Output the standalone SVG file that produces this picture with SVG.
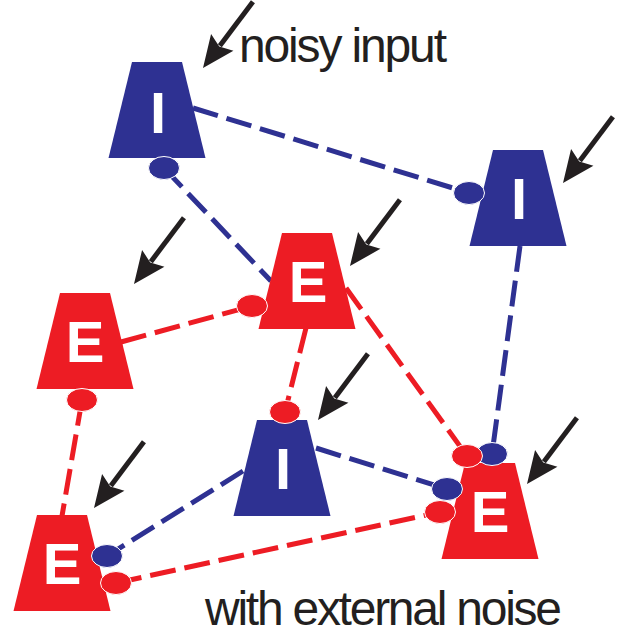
<svg xmlns="http://www.w3.org/2000/svg" xmlns:xlink="http://www.w3.org/1999/xlink" width="629" height="635" viewBox="0 0 629 635">
  <style>
    .exc { fill: #ed1c24; }
    .inh { fill: #2e3192; }
    .lbl { font-family: "Liberation Sans", Arial, sans-serif; font-weight: bold; font-size: 58px; fill: #ffffff; text-anchor: middle; }
    .cap { font-family: "Liberation Sans", Arial, sans-serif; font-size: 48px; fill: #231f20; }
    .wire { fill: none; stroke-width: 5; stroke-dasharray: 26 9; }
    .wire.e { stroke: #ed1c24; }
    .wire.i { stroke: #2e3192; }
    .syn { stroke: #ffffff; stroke-width: 1; }
    .syn.e { fill: #ed1c24; }
    .syn.i { fill: #2e3192; }
  </style>
  <defs>
    <!-- trapezoidal soma, origin at the middle of its top edge -->
    <path id="soma" d="M-25,0 H25 L48.5,96 H-48.5 Z"/>
    <!-- noise arrow pointing down, tip at origin -->
    <g id="kick">
      <line x1="0" y1="-28" x2="0" y2="-83" stroke="#231f20" stroke-width="5"/>
      <polygon points="0,0 -14,-32 0,-27 14,-32" fill="#231f20"/>
    </g>
  </defs>

  <!-- dashed synaptic connections -->
  <g id="connectors">
    <line class="wire i" x1="193" y1="108" x2="469" y2="193"/>
    <line class="wire i" x1="164" y1="168" x2="271" y2="281"/>
    <line class="wire i" x1="520" y1="246" x2="492" y2="454"/>
    <line class="wire i" x1="243" y1="471" x2="107" y2="556"/>
    <line class="wire i" x1="316" y1="448" x2="447" y2="489"/>
    <line class="wire e" x1="346" y1="288" x2="467" y2="456"/>
    <line class="wire e" x1="306" y1="328" x2="285" y2="412"/>
    <line class="wire e" x1="121" y1="342" x2="252" y2="306"/>
    <line class="wire e" x1="82" y1="400" x2="62" y2="516"/>
    <line class="wire e" x1="116" y1="583" x2="440" y2="512"/>
  </g>

  <!-- neurons -->
  <g id="inh-top-left">
    <use xlink:href="#soma" class="inh" transform="translate(157,62)"/>
    <text class="lbl" x="158" y="133">I</text>
  </g>
  <g id="inh-top-right">
    <use xlink:href="#soma" class="inh" transform="translate(518,150)"/>
    <text class="lbl" x="519" y="219">I</text>
  </g>
  <g id="exc-center">
    <use xlink:href="#soma" class="exc" transform="translate(307,233)"/>
    <text class="lbl" x="308" y="302">E</text>
  </g>
  <g id="exc-left">
    <use xlink:href="#soma" class="exc" transform="translate(85,293)"/>
    <text class="lbl" x="85" y="362">E</text>
  </g>
  <g id="inh-bottom">
    <use xlink:href="#soma" class="inh" transform="translate(282,420)"/>
    <text class="lbl" x="283" y="489">I</text>
  </g>
  <g id="exc-bottom-right">
    <use xlink:href="#soma" class="exc" transform="translate(490,463)"/>
    <text class="lbl" x="490" y="532">E</text>
  </g>
  <g id="exc-bottom-left">
    <use xlink:href="#soma" class="exc" transform="translate(62,515)"/>
    <text class="lbl" x="62" y="584">E</text>
  </g>

  <!-- synapse terminals -->
  <g id="synapses">
    <ellipse class="syn i" cx="469" cy="193" rx="15.5" ry="11.5"/>
    <ellipse class="syn i" cx="164" cy="168" rx="15.5" ry="11.5"/>
    <ellipse class="syn i" cx="492" cy="454" rx="15.5" ry="11.5"/>
    <ellipse class="syn e" cx="467" cy="456" rx="15.5" ry="11.5"/>
    <ellipse class="syn e" cx="440" cy="512" rx="15.5" ry="11.5"/>
    <ellipse class="syn i" cx="447" cy="489" rx="15.5" ry="11.5"/>
    <ellipse class="syn i" cx="107" cy="556" rx="15.5" ry="11.5"/>
    <ellipse class="syn e" cx="116" cy="583" rx="15.5" ry="11.5"/>
    <ellipse class="syn e" cx="285" cy="412" rx="15.5" ry="11.5"/>
    <ellipse class="syn e" cx="252" cy="306" rx="15.5" ry="11.5"/>
    <ellipse class="syn e" cx="82" cy="400" rx="15.5" ry="11.5"/>
  </g>

  <!-- external noise arrows -->
  <g id="noise">
    <use xlink:href="#kick" transform="translate(203,68) rotate(37)"/>
    <use xlink:href="#kick" transform="translate(563,183) rotate(37)"/>
    <use xlink:href="#kick" transform="translate(350,266) rotate(37)"/>
    <use xlink:href="#kick" transform="translate(134,284) rotate(37)"/>
    <use xlink:href="#kick" transform="translate(318,420) rotate(37)"/>
    <use xlink:href="#kick" transform="translate(527,484) rotate(37)"/>
    <use xlink:href="#kick" transform="translate(94,508) rotate(37)"/>
  </g>

  <text class="cap" x="239" y="62" textLength="208" lengthAdjust="spacing">noisy input</text>
  <text class="cap" x="205" y="625" textLength="357" lengthAdjust="spacing">with external noise</text>
</svg>
